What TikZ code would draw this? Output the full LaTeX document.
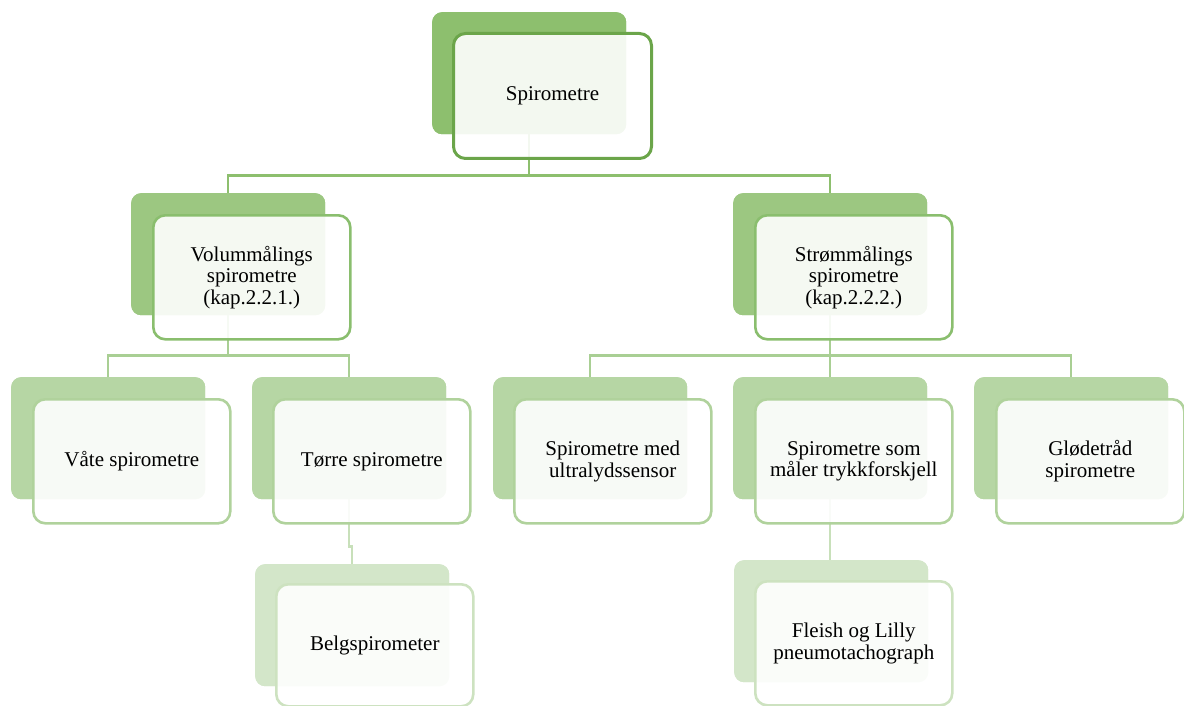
\documentclass[tikz,border=0pt]{standalone}
\usepackage{fontspec}
\setmainfont{Liberation Serif}
\definecolor{bkA}{RGB}{141,191,110}
\definecolor{bdA}{RGB}{107,165,74}
\definecolor{bkB}{RGB}{156,199,129}
\definecolor{bdB}{RGB}{138,190,110}
\definecolor{bkC}{RGB}{182,214,164}
\definecolor{bdC}{RGB}{176,210,156}
\definecolor{bkD}{RGB}{211,230,201}
\definecolor{bdD}{RGB}{205,226,192}
\definecolor{lnA}{RGB}{141,191,110}
\definecolor{lnB}{RGB}{169,207,148}
\definecolor{lnC}{RGB}{200,224,186}
\begin{document}
\begin{tikzpicture}[x=1pt,y=-1pt,
  backbox/.style={rectangle,rounded corners=10pt,inner sep=0pt,anchor=north west,minimum width=194pt,minimum height=122pt},
  frontbox/.style={rectangle,rounded corners=12pt,inner sep=0pt,anchor=north west,minimum width=197pt,minimum height=124pt,fill=white,fill opacity=0.9,text opacity=1,line width=2.6pt,align=center,font=\fontsize{21}{21.5}\selectfont},
  link/.style={line width=2.4pt}]
\useasboundingbox (0,0) rectangle (1184,706);
% back boxes
\node[backbox,fill=bkA] (b0) at (432,12) {};
\node[backbox,fill=bkB] (b1) at (131,193) {};
\node[backbox,fill=bkB] (b2) at (733,193) {};
\node[backbox,fill=bkC] (b11) at (11,377) {};
\node[backbox,fill=bkC] (b12) at (252,377) {};
\node[backbox,fill=bkC] (b21) at (493,377) {};
\node[backbox,fill=bkC] (b22) at (733,377) {};
\node[backbox,fill=bkC] (b23) at (974,377) {};
\node[backbox,fill=bkD] (b121) at (255,564) {};
\node[backbox,fill=bkD] (b221) at (734,560) {};
% connectors
\draw[link,draw=lnA] (b0.south) -- ++(0,41) -| (b1.north);
\draw[link,draw=lnA] (b0.south) -- ++(0,41) -| (b2.north);
\draw[link,draw=lnB] (b1.south) -- ++(0,40) -| (b11.north);
\draw[link,draw=lnB] (b1.south) -- ++(0,40) -| (b12.north);
\draw[link,draw=lnB] (b2.south) -- ++(0,40) -| (b21.north);
\draw[link,draw=lnB] (b2.south) -- ++(0,40) -| (b22.north);
\draw[link,draw=lnB] (b2.south) -- ++(0,40) -| (b23.north);
\draw[link,draw=lnC] (b12.south) -- ++(0,47) -| (b121.north);
\draw[link,draw=lnC] (b22.south) -- (b22.south |- b221.north);
% redraw backs above connectors
\node[backbox,fill=bkA] at (432,12) {};
\node[backbox,fill=bkB] at (131,193) {};
\node[backbox,fill=bkB] at (733,193) {};
\node[backbox,fill=bkC] at (11,377) {};
\node[backbox,fill=bkC] at (252,377) {};
\node[backbox,fill=bkC] at (493,377) {};
\node[backbox,fill=bkC] at (733,377) {};
\node[backbox,fill=bkC] at (974,377) {};
\node[backbox,fill=bkD] at (255,564) {};
\node[backbox,fill=bkD] at (734,560) {};
% front boxes
\node[frontbox,draw=bdA,line width=3pt,minimum width=198pt,minimum height=125pt] (f0) at (452,32) {Spirometre};
\node[frontbox,draw=bdB] (f1) at (152,214) {Volummålings\\spirometre\\(kap.2.2.1.)};
\node[frontbox,draw=bdB] (f2) at (754,214) {Strømmålings\\spirometre\\(kap.2.2.2.)};
\node[frontbox,draw=bdC] (f11) at (32,398) {Våte spirometre};
\node[frontbox,draw=bdC] (f12) at (272,398) {Tørre spirometre};
\node[frontbox,draw=bdC] (f21) at (513,398) {Spirometre med\\ultralydssensor};
\node[frontbox,draw=bdC] (f22) at (754,398) {Spirometre som\\måler trykkforskjell};
\node[frontbox,draw=bdC,minimum width=188pt] (f23) at (995,398) {Glødetråd\\spirometre};
\node[frontbox,draw=bdD,minimum height=122pt] (f121) at (275,583) {Belgspirometer};
\node[frontbox,draw=bdD] (f221) at (754,580) {Fleish og Lilly\\pneumotachograph};
\end{tikzpicture}
\end{document}
